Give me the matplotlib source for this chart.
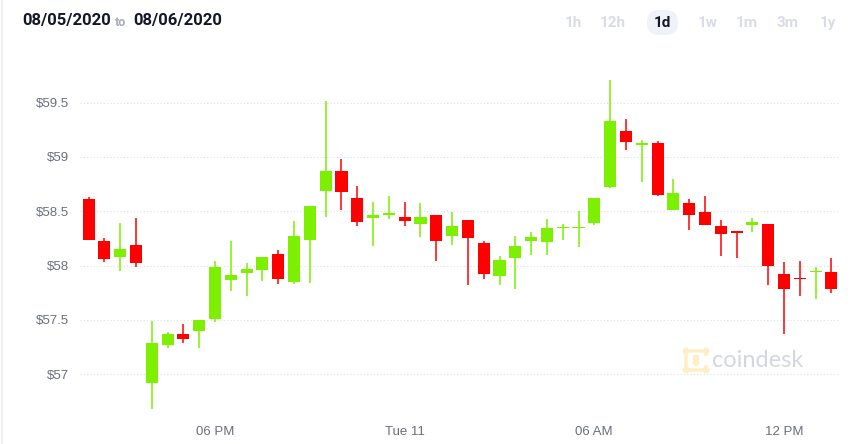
import matplotlib.pyplot as plt
from matplotlib.patches import FancyBboxPatch
import numpy as np

# 30 minute candles, 48 of them
opens = [58.61, 58.23, 58.08, 58.19, 56.92, 57.27, 57.37, 57.40, 57.51, 57.87,
         57.93, 57.96, 58.11, 57.85, 58.24, 58.69, 58.87, 58.62, 58.44, 58.47,
         58.45, 58.38, 58.47, 58.27, 58.42, 58.21, 57.90, 58.07, 58.23, 58.22,
         58.345, 58.345, 58.39, 58.72, 59.24, 59.113, 59.13, 58.515, 58.58, 58.49,
         58.36, 58.31, 58.37, 58.38, 57.92, 57.883, 57.942, 57.94]
closes = [58.24, 58.06, 58.15, 58.02, 57.29, 57.37, 57.32, 57.50, 57.99, 57.91,
          57.97, 58.08, 57.88, 58.27, 58.55, 58.87, 58.68, 58.40, 58.47, 58.48,
          58.41, 58.45, 58.23, 58.36, 58.25, 57.92, 58.05, 58.18, 58.26, 58.35,
          58.356, 58.356, 58.62, 59.33, 59.14, 59.119, 58.65, 58.67, 58.47, 58.37,
          58.29, 58.304, 58.40, 58.00, 57.78, 57.874, 57.946, 57.78]
highs = [58.63, 58.25, 58.39, 58.44, 57.49, 57.39, 57.46, 57.50, 58.04, 58.23,
         58.02, 58.08, 58.14, 58.41, 58.55, 59.52, 58.98, 58.73, 58.59, 58.64,
         58.59, 58.58, 58.47, 58.49, 58.42, 58.23, 58.09, 58.27, 58.31, 58.43,
         58.38, 58.50, 58.62, 59.71, 59.35, 59.156, 59.15, 58.80, 58.61, 58.64,
         58.42, 58.31, 58.44, 58.38, 58.03, 58.04, 57.99, 58.07]
lows = [58.24, 58.03, 57.95, 57.99, 56.68, 57.24, 57.29, 57.24, 57.48, 57.77,
        57.72, 57.86, 57.83, 57.83, 57.84, 58.45, 58.51, 58.36, 58.18, 58.43,
        58.36, 58.26, 58.04, 58.19, 57.82, 57.88, 57.82, 57.78, 58.10, 58.10,
        58.24, 58.17, 58.37, 58.71, 59.06, 58.77, 58.64, 58.51, 58.33, 58.37,
        58.09, 58.07, 58.31, 57.82, 57.37, 57.72, 57.69, 57.75]
tick_pos = [8, 20, 32, 44]
tick_labels = ['06 PM', 'Tue 11', '06 AM', '12 PM']
y_ticks = [57, 57.5, 58, 58.5, 59, 59.5]
y_labels = ['$57', '$57.5', '$58', '$58.5', '$59', '$59.5']
periods = ['1h', '12h', '1d', '1w', '1m', '3m', '1y']
period_x = [573, 613, 662, 708, 747, 788, 828]

W, H = 865, 444
fig = plt.figure(figsize=(W / 100, H / 100), dpi=100)
fig.patch.set_facecolor('white')

# overlay in pixel units for header and watermark
ov = fig.add_axes([0, 0, 1, 1])
ov.set_xlim(0, W)
ov.set_ylim(H, 0)
ov.axis('off')

ax = fig.add_axes([80 / W, 29 / H, 760 / W, 355 / H])
ax.set_facecolor('none')

green = '#7cf000'
red = '#ff0000'
x = np.arange(len(opens))
o = np.array(opens)
c = np.array(closes)
col = [green if cc >= oo else red for oo, cc in zip(o, c)]
bottom = np.minimum(o, c)
height = np.maximum(np.abs(c - o), 0.012)

ax.vlines(x, lows, highs, colors=col, linewidth=1.1, zorder=3)
ax.bar(x, height, bottom=bottom, width=0.76, color=col, zorder=4)

ax.set_xlim(-0.55, 47.55)
ax.set_ylim(56.624, 59.893)

for v in y_ticks:
    ax.axhline(v, color='#dde0e9', linewidth=0.8, linestyle=(0, (1, 2)), zorder=1)

ax.set_yticks(y_ticks)
ax.set_yticklabels(y_labels)
ax.set_xticks(tick_pos)
ax.set_xticklabels(tick_labels)
ax.tick_params(length=0, labelsize=9.5, labelcolor='#6b6f7e', pad=8)
for lbl in ax.get_xticklabels() + ax.get_yticklabels():
    lbl.set_fontfamily('Liberation Sans')
for s in ax.spines.values():
    s.set_visible(False)

# header
ov.text(22, 21, '08/05/2020', fontsize=12, fontweight='bold',
        family='Roboto', color='#14172b', va='center')
ov.text(115, 22, 'to', fontsize=9, fontweight='bold',
        family='Roboto', color='#a9acb8', va='center')
ov.text(133, 21, '08/06/2020', fontsize=12, fontweight='bold',
        family='Roboto', color='#14172b', va='center')

ov.add_patch(FancyBboxPatch((647, 10), 31, 25,
                            boxstyle='round,pad=0,rounding_size=12',
                            facecolor='#eff2f9', edgecolor='none'))
for p, px in zip(periods, period_x):
    ov.text(px, 23, p, fontsize=11, fontweight='bold', family='Roboto',
            color='#14172b' if p == '1d' else '#d9dce6', ha='center', va='center')

# watermark
ov.text(712, 360, 'coindesk', fontsize=17, family='Lato',
        color='#d4d7df', va='center')
ov.add_patch(FancyBboxPatch((686, 351), 20, 19,
                            boxstyle='round,pad=0,rounding_size=3',
                            facecolor='none', edgecolor='#fdeec4', linewidth=2.5))
ov.add_patch(plt.Rectangle((699, 356), 9, 9, facecolor='white', edgecolor='none'))
for dx, dy in [(0, 0), (20, 0), (0, 19), (20, 19), (10, 7), (10, 12)]:
    ov.add_patch(plt.Circle((686 + dx, 351 + dy), 2.6, color='#fdeec4'))

ov.plot([1.5, 1.5], [0, H], color='#eef0f5', linewidth=1.5)

fig.savefig('out.png', dpi=100)
